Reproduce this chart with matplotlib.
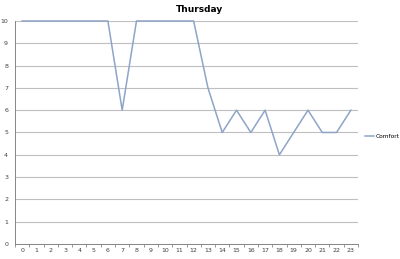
import matplotlib
matplotlib.use("Agg")
import matplotlib.pyplot as plt

# hourly comfort values for Thursday
hours = list(range(24))
comfort = [10, 10, 10, 10, 10, 10, 10, 6, 10, 10, 10, 10,
           10, 7, 5, 6, 5, 6, 4, 5, 6, 5, 5, 6]
y_ticks = list(range(0, 11))

fig = plt.figure(figsize=(4.0, 2.59), dpi=100)
ax = fig.add_axes([0.0375, 0.058, 0.8575, 0.861])

ax.plot(hours, comfort, color="#8ea4c8", linewidth=1.1, label="Comfort",
        clip_on=False, zorder=3)

ax.set_xlim(-0.5, 23.5)
ax.set_ylim(0, 10)
ax.set_yticks(y_ticks)
ax.set_xticks(hours)
ax.set_xticks([h - 0.5 for h in hours] + [23.5], minor=True)
ax.tick_params(axis="x", which="major", length=0, labelsize=4.5, pad=3, colors="#404040")
ax.tick_params(axis="x", which="minor", length=2.5, color="#868686", width=0.6)
ax.tick_params(axis="y", length=0, labelsize=4.5, pad=5, colors="#404040")
ax.grid(axis="y", color="#bfbfbf", linewidth=0.8)
ax.set_axisbelow(True)

for side in ("top", "right"):
    ax.spines[side].set_visible(False)
for side in ("left", "bottom"):
    ax.spines[side].set_color("#868686")
    ax.spines[side].set_linewidth(0.7)

fig.suptitle("Thursday", x=0.5, y=0.98, fontsize=6.5, fontweight="bold")
ax.legend(loc="center left", bbox_to_anchor=(1.02, 0.48), frameon=False,
          fontsize=4.2, handlelength=1.6, handletextpad=0.3, borderaxespad=0,
          borderpad=0)

fig.savefig("out.png", dpi=100)
